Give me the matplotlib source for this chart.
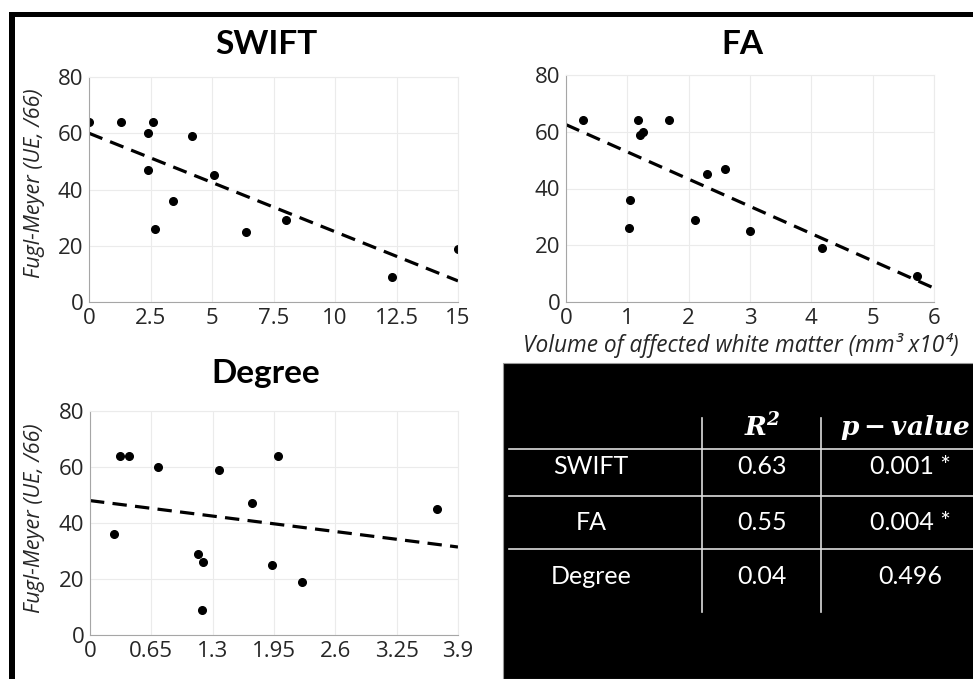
import numpy as np
import matplotlib
matplotlib.use("Agg")
import matplotlib.pyplot as plt
from matplotlib.patches import Rectangle
from matplotlib.lines import Line2D

plt.rcParams["font.family"] = ["Open Sans", "DejaVu Sans"]
plt.rcParams["mathtext.fontset"] = "custom"
plt.rcParams["mathtext.bf"] = "DejaVu Serif:bold:italic"
plt.rcParams["mathtext.rm"] = "DejaVu Serif:bold:italic"

# ---------- data ----------
swift_x = [0.0, 1.3, 2.4, 2.6, 2.4, 4.2, 5.1, 3.4, 2.7, 6.4, 8.0, 12.3, 15.0]
swift_y = [64, 64, 60, 64, 47, 59, 45, 36, 26, 25, 29, 9, 19]
swift_fit = (60.0, -3.5)          # intercept, slope

fa_x = [0.27, 1.18, 1.21, 1.25, 1.68, 2.3, 2.6, 1.04, 1.03, 2.11, 3.0, 4.18, 5.72]
fa_y = [64, 64, 59, 60, 64, 45, 47, 36, 26, 29, 25, 19, 9]
fa_fit = (62.5, -9.6)

deg_x = [0.25, 0.32, 0.41, 0.72, 1.37, 1.14, 1.2, 1.19, 1.72, 1.99, 1.93, 2.25, 3.68]
deg_y = [36, 64, 64, 60, 59, 29, 26, 9, 47, 64, 25, 19, 45]
deg_fit = (48.0, -4.25)

swift_ticks = [0, 2.5, 5, 7.5, 10, 12.5, 15]
fa_ticks = [0, 1, 2, 3, 4, 5, 6]
deg_ticks = [0, 0.65, 1.3, 1.95, 2.6, 3.25, 3.9]
y_ticks = [0, 20, 40, 60, 80]

table_rows = ["SWIFT", "FA", "Degree"]
r2_vals = ["0.63", "0.55", "0.04"]
p_vals = ["0.001 *", "0.004 *", "0.496"]

W, H = 973, 679
fig = plt.figure(figsize=(W / 100, H / 100), dpi=100)


def px(x, y):
    return x / W, 1 - y / H


def panel(rect, xs, ys, fit, ticks):
    l, t, r, b = rect
    ax = fig.add_axes([l / W, 1 - b / H, (r - l) / W, (b - t) / H])
    ax.set_xlim(ticks[0], ticks[-1])
    ax.set_ylim(0, 80)
    ax.set_xticks(ticks)
    ax.set_xticklabels([f"{t:g}" for t in ticks])
    ax.set_yticks(y_ticks)
    ax.grid(True, color="#ebebeb", lw=0.8)
    ax.set_axisbelow(True)
    for s in ["top", "right"]:
        ax.spines[s].set_color("#ebebeb")
    for s in ["left", "bottom"]:
        ax.spines[s].set_color("#a6a6a6")
    ax.tick_params(length=0, labelsize=16, labelcolor="#262626", pad=4)
    xx = np.array([ticks[0], ticks[-1]])
    ax.plot(xx, fit[0] + fit[1] * xx, color="black", lw=2.3, ls=(0, (4.5, 2.6)))
    ax.plot(xs, ys, "o", color="black", ms=5.5)
    return ax


panel((89, 77, 458, 302), swift_x, swift_y, swift_fit, swift_ticks)
panel((566, 75, 934, 302), fa_x, fa_y, fa_fit, fa_ticks)
panel((90, 411, 458, 635), deg_x, deg_y, deg_fit, deg_ticks)

# titles
tkw = dict(ha="center", va="center", fontsize=24, fontweight="bold", family=["Lato", "DejaVu Sans"])
fig.text(*px(266, 45), "SWIFT", **tkw)
fig.text(*px(742, 45), "FA", **tkw)
fig.text(*px(266, 373), "Degree", **tkw)

ykw = dict(ha="center", va="center", rotation=90, fontsize=15.5, style="italic", color="#262626")
fig.text(*px(35, 183), "Fugl-Meyer (UE, /66)", **ykw)
fig.text(*px(35, 518), "Fugl-Meyer (UE, /66)", **ykw)
fig.text(*px(741, 346), "Volume of affected white matter (mm³ x10⁴)",
         ha="center", va="center", fontsize=16.3, style="italic", color="#262626")

# border bars
fig.add_artist(Rectangle(px(9, 17), 964 / W, 5 / H, transform=fig.transFigure, color="black", lw=0))
fig.add_artist(Rectangle(px(9, 679), 6 / W, 667 / H, transform=fig.transFigure, color="black", lw=0))

# ---------- table ----------
fig.add_artist(Rectangle(px(503, 679), 480 / W, 316 / H, transform=fig.transFigure,
                         facecolor="black", edgecolor="#999999", lw=0.8))
for yy in [449, 496, 549]:
    fig.add_artist(Line2D([509 / W, 1], [1 - yy / H] * 2, transform=fig.transFigure, color="#dddddd", lw=1.2))
for xx in [702, 821]:
    fig.add_artist(Line2D([xx / W] * 2, [1 - 418 / H, 1 - 612 / H], transform=fig.transFigure,
                          color="#dddddd", lw=1.2))

hkw = dict(ha="center", va="center", fontsize=19, color="white")
fig.text(*px(762, 428), r"$\mathbf{R^2}$", **hkw)
fig.text(*px(905, 428), r"$\mathbf{p - value}$", **hkw)

ckw = dict(ha="center", va="center", fontsize=18, color="white", family=["Lato", "DejaVu Sans"])
for i, row in enumerate(table_rows):
    yy = [467, 523, 577][i]
    fig.text(*px(591, yy), row, **ckw)
    fig.text(*px(762, yy), r2_vals[i], **ckw)
    fig.text(*px(910, yy), p_vals[i], **ckw)

fig.savefig("out.png", dpi=100, facecolor="white")
